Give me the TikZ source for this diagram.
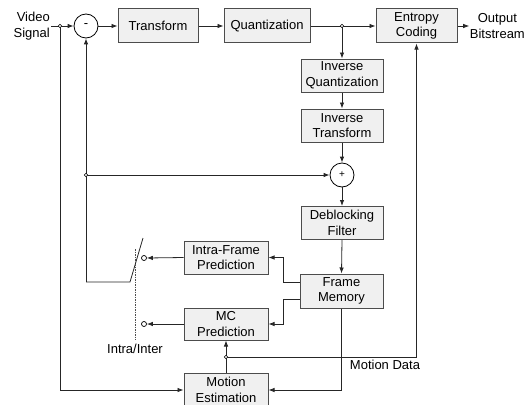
\documentclass[tikz,border=0pt]{standalone}
\usepackage{fontspec}
\setmainfont{Liberation Sans}
\usetikzlibrary{arrows.meta}
\begin{document}
\begin{tikzpicture}[x=1pt,y=-1pt,
  font=\fontsize{13}{15.5}\selectfont,
  blk/.style={draw=black!70,line width=1pt,fill=black!6,align=center,inner sep=1pt},
  sumc/.style={circle,draw=black,line width=0.8pt,fill=white,minimum size=24pt,inner sep=0pt},
  conn/.style={line width=0.8pt,draw=black!85},
  arr/.style={conn,-{Latex[length=6pt,width=4.5pt]}},
  jdot/.style={circle,draw=black,line width=0.6pt,fill=white,minimum size=3.5pt,inner sep=0pt},
  cont/.style={circle,draw=black,line width=0.7pt,fill=white,minimum size=5pt,inner sep=0pt},
  lbl/.style={inner sep=1pt,align=center}]
\useasboundingbox (0,0) rectangle (526,404);

% blocks
\node[blk,minimum width=80pt,minimum height=34pt] (tr) at (158,26) {Transform};
\node[blk,minimum width=86pt,minimum height=34pt] (qu) at (267,26) {Quantization};
\node[blk,minimum width=81pt,minimum height=34pt] (ec) at (416.5,26) {Entropy\\Coding};
\node[blk,minimum width=82pt,minimum height=33pt] (iq) at (342,75.5) {Inverse\\Quantization};
\node[blk,minimum width=82pt,minimum height=33pt] (it) at (342,125.5) {Inverse\\Transform};
\node[blk,minimum width=82pt,minimum height=33pt] (df) at (342,223) {Deblocking\\Filter};
\node[blk,minimum width=83pt,minimum height=34pt] (fm) at (341.5,291) {Frame\\Memory};
\node[blk,minimum width=84pt,minimum height=33pt] (ip) at (226,257.5) {Intra-Frame\\Prediction};
\node[blk,minimum width=84pt,minimum height=32pt] (mc) at (226,324) {MC\\Prediction};
\node[blk,minimum width=84pt,minimum height=34pt] (me) at (226,390) {Motion\\Estimation};

% sum circles
\node[sumc] (mi) at (86,26) {-};
\node[sumc] (pl) at (342,175) {\fontsize{10}{12}\selectfont +};

% labels
\node[lbl,align=right,anchor=east] (vs) at (51,26) {Video\\Signal};
\node[lbl,anchor=east,inner sep=0.5pt] (ob) at (525.5,26) {Output\\Bitstream};
\node[lbl] (mdl) at (385,365) {Motion Data};
\node[lbl] (ii) at (135,349) {Intra/Inter};

% coordinates
\coordinate (vj) at (60,26);
\coordinate (qj) at (342,26);
\coordinate (lj) at (86,175);
\coordinate (mj) at (226,357);
\coordinate (swa) at (130,282);
\coordinate (swb) at (143,238);
\coordinate (swc) at (86,282);
\coordinate (ds1) at (135,249);
\coordinate (ds2) at (135,340);
\node[cont] (c1) at (144,258) {};
\node[cont] (c2) at (144,324) {};

% forward path
\draw[arr] (vs.east) -- (mi.west);
\draw[arr] (mi.east) -- (tr.west);
\draw[arr] (tr.east) -- (qu.west);
\draw[arr] (qu.east) -- (ec.west);
\draw[arr] (ec.east) -- (ob.west);
\draw[arr] (qj) -- (iq.north);
\draw[arr] (iq.south) -- (it.north);
\draw[arr] (it.south) -- (pl.north);
\draw[arr] (pl.south) -- (df.north);
\draw[arr] (df.south) -- (fm.north);

% input to motion estimation
\draw[arr] (vj) |- (me.west);

% switch & prediction loop
\draw[conn] (swb) -- (swa) -- (swc);
\draw[arr] (swc) -- (mi.south);
\draw[arr] (lj) -- (pl.west);
\draw[conn,line width=0.7pt,dash pattern=on 1.5pt off 1pt,draw=black!70] (ds1) -- (ds2);
\draw[arr] (ip.west) -- (c1.east);
\draw[arr] (mc.west) -- (c2.east);

% frame memory outputs
\draw[arr] ([yshift=9pt]fm.west) -- ++(-16,0) |- (ip.east);
\draw[arr] ([yshift=-8pt]fm.west) -- ++(-16,0) |- (mc.east);
\draw[arr] (fm.south) |- (me.east);

% motion data
\draw[arr] (me.north) -- (mc.south);
\draw[arr] (mj) -| (ec.south);

% junction dots
\node[jdot] at (vj) {};
\node[jdot] at (qj) {};
\node[jdot] at (lj) {};
\node[jdot] at (mj) {};
\end{tikzpicture}
\end{document}
